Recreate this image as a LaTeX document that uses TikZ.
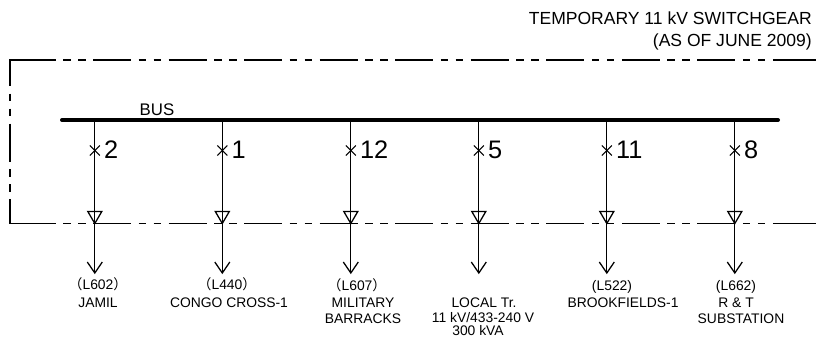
\documentclass[tikz,border=0pt]{standalone}
\usepackage{fontspec}
\setmainfont{Liberation Sans}
\newfontfamily\cjk{Noto Sans CJK JP}
\newcommand{\lpar}{{\cjk （}}
\newcommand{\rpar}{{\cjk ）}}
\tikzset{
    frameline/.style={line width=0.95pt, dash pattern=on 28.5pt off 5.63pt on 5.63pt off 5.63pt on 5.63pt off 5.63pt},
    solidline/.style={line width=0.95pt},
    busline/.style={line width=3pt, line cap=round},
    feederline/.style={line width=0.75pt},
    loadline/.style={line width=0.95pt},
    titletext/.style={font=\fontsize{13.15}{15}\selectfont, anchor=base east, inner sep=0pt},
    bustext/.style={font=\fontsize{12.6}{14}\selectfont, anchor=base, inner sep=0pt},
    feedertext/.style={font=\fontsize{10.4}{12}\selectfont, anchor=base, inner sep=0pt},
    numbertext/.style={font=\fontsize{19}{21}\selectfont, anchor=base west, inner sep=0pt}
}
\begin{document}
\begin{tikzpicture}[x=0.75pt, y=-0.75pt]
    \useasboundingbox (0,0) rectangle (816,336);
    % frame round the switchgear
    \coordinate (frameTL) at (10,60);
    \coordinate (frameBL) at (10,223.5);
    \coordinate (frameTS) at (17.5,60);
    \coordinate (frameBS) at (17.5,223.5);
    \coordinate (frameTE) at (773,60);
    \coordinate (frameBE) at (773,223.5);
    \coordinate (frameTR) at (816,60);
    \coordinate (frameBR) at (816,223.5);
    \draw[solidline] (frameTS) -- (frameTL) -- ++(0,25);
    \draw[solidline] (frameBS) -- (frameBL) -- ++(0,-25);
    \draw[solidline] (frameTE) -- (frameTR);
    \draw[solidline] (frameBE) -- (frameBR);
    \draw[frameline] (frameTS) -- (frameTE);
    \draw[frameline] (frameBS) -- (frameBE);
    \draw[frameline, dash phase=9pt] (frameTL) -- (frameBL);
    % bus
    \coordinate (busL) at (62,120);
    \coordinate (busR) at (778,120);
    \draw[busline] (busL) -- (busR);
    \node[bustext] (busLabel) at (157,115) {BUS};
    % feeders
    \foreach \fx/\fname/\fnum in {94.8/a/2, 222.3/b/1, 350.8/c/12, 478.8/d/5, 606.8/e/11, 734.8/f/8}{
        \coordinate (top\fname) at (\fx,120);
        \coordinate (tip\fname) at (\fx,273);
        \draw[feederline] (top\fname) -- (\fx,211);
        \draw[feederline] (\fx-5,145.5) -- (\fx+5,155.5);
        \draw[feederline] (\fx-5,155.5) -- (\fx+5,145.5);
        \draw[loadline] (\fx-7,211.5) -- (\fx+7,211.5) -- (\fx,223.5) -- cycle;
        \draw[loadline] (\fx,211) -- (tip\fname);
        \draw[loadline] (\fx-7.5,262) -- (tip\fname) -- (\fx+7.5,262);
        \node[numbertext] (num\fname) at (\fx+9,158) {\fnum};
    }
    % texts
    \node[titletext] (titleA) at (812,24) {TEMPORARY 11 kV SWITCHGEAR};
    \node[titletext] (titleB) at (812,46.5) {(AS OF JUNE 2009)};
    \node[feedertext] (lineA) at (98,289) {\lpar L602\rpar};
    \node[feedertext] (nameA) at (98,307) {JAMIL};
    \node[feedertext] (lineB) at (227,289) {\lpar L440\rpar};
    \node[feedertext] (nameB) at (229,307.5) {CONGO CROSS-1};
    \node[feedertext] (lineC) at (357,290) {\lpar L607\rpar};
    \node[feedertext] (nameC) at (363,307) {MILITARY};
    \node[feedertext] (nameCb) at (363,323) {BARRACKS};
    \node[feedertext] (nameD) at (484,307) {LOCAL Tr.};
    \node[feedertext] (nameDb) at (483,322) {11 kV/433-240 V};
    \node[feedertext] (nameDc) at (478,335) {300 kVA};
    \node[feedertext] (lineE) at (612,290) {(L522)};
    \node[feedertext] (nameE) at (623,307) {BROOKFIELDS-1};
    \node[feedertext] (lineF) at (736,290) {(L662)};
    \node[feedertext] (nameF) at (736,307) {R \& T};
    \node[feedertext] (nameFb) at (741,323) {SUBSTATION};
\end{tikzpicture}
\end{document}
